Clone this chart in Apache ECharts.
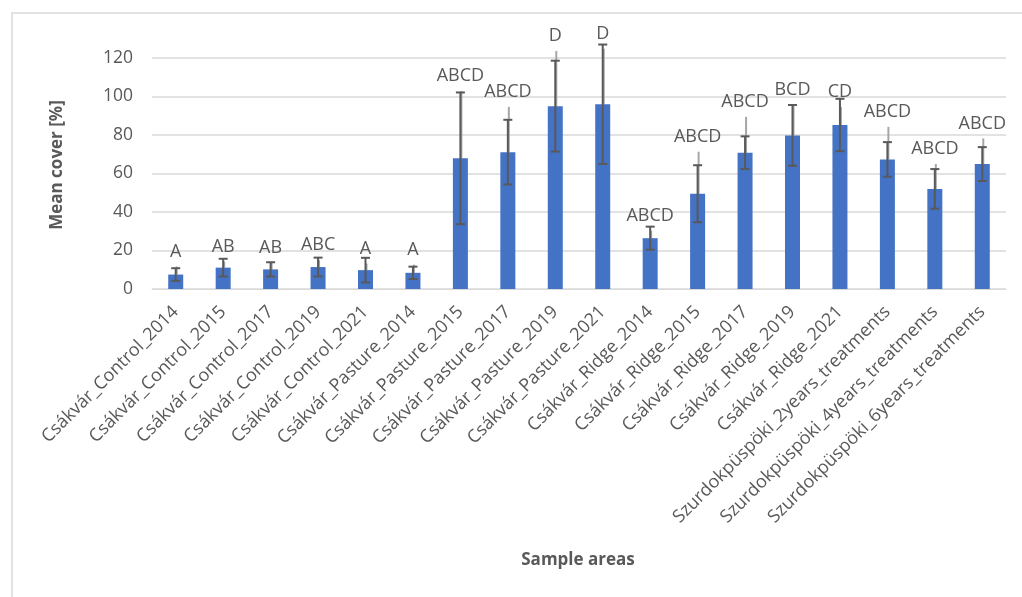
<!DOCTYPE html>
<html>
<head>
<meta charset="utf-8">
<script src="https://cdn.jsdelivr.net/npm/echarts@6/dist/echarts.min.js"></script>
<style>
  html, body { margin: 0; padding: 0; background: #ffffff; }
  #chart { width: 1022px; height: 597px; }
</style>
</head>
<body>
<div id="chart"></div>
<script>
const categories = [
  'Csákvár_Control_2014', 'Csákvár_Control_2015', 'Csákvár_Control_2017', 'Csákvár_Control_2019',
  'Csákvár_Control_2021', 'Csákvár_Pasture_2014', 'Csákvár_Pasture_2015', 'Csákvár_Pasture_2017',
  'Csákvár_Pasture_2019', 'Csákvár_Pasture_2021', 'Csákvár_Ridge_2014', 'Csákvár_Ridge_2015',
  'Csákvár_Ridge_2017', 'Csákvár_Ridge_2019', 'Csákvár_Ridge_2021',
  'Szurdokpüspöki_2years_treatments', 'Szurdokpüspöki_4years_treatments', 'Szurdokpüspöki_6years_treatments'
];
const means  = [7.5, 11.1, 10.2, 11.4, 9.8, 8.4, 67.9, 71.1, 95.0, 96.0, 26.4, 49.5, 70.8, 79.8, 85.2, 67.3, 52.0, 64.9];
const errors = [3.3, 4.6, 3.7, 4.9, 6.4, 3.2, 34.2, 16.8, 23.6, 31.0, 6.0, 14.8, 8.5, 15.8, 13.6, 9.0, 10.3, 8.8];
const letters = ['A', 'AB', 'AB', 'ABC', 'A', 'A', 'ABCD', 'ABCD', 'D', 'D', 'ABCD', 'ABCD', 'ABCD', 'BCD', 'CD', 'ABCD', 'ABCD', 'ABCD'];
const letterAt = [19.5, 22.1, 21.6, 22.8, 21.0, 20.4, 110.5, 102.4, 131.4, 132.6, 38.1, 79.1, 97.2, 103.3, 102.4, 92.0, 72.7, 86.0];
const yTicks = { min: 0, max: 120, interval: 20 };

const FONT = '"Open Sans", "DejaVu Sans", sans-serif';
const errData = means.map((m, i) => [i, m - errors[i], m + errors[i]]);
const labelData = means.map((m, i) => [i, m, letterAt[i], letters[i]]);

const chart = echarts.init(document.getElementById('chart'), null, { renderer: 'canvas' });
chart.setOption({
  animation: false,
  backgroundColor: '#ffffff',
  grid: { left: 152, right: 16, top: 58, bottom: 308, containLabel: false },
  xAxis: {
    type: 'category',
    data: categories,
    axisLine: { show: true, lineStyle: { color: '#d9d9d9', width: 1 } },
    axisTick: { show: false },
    axisLabel: {
      interval: 0, rotate: 45, margin: 20,
      color: '#595959', fontSize: 18, fontFamily: FONT
    }
  },
  yAxis: {
    type: 'value',
    min: yTicks.min, max: yTicks.max, interval: yTicks.interval,
    axisLine: { show: false },
    axisTick: { show: false },
    splitLine: { lineStyle: { color: '#d9d9d9', width: 1.5 } },
    axisLabel: { margin: 19, color: '#595959', fontSize: 17.5, fontFamily: FONT }
  },
  graphic: [
    { type: 'rect', shape: { x: 12, y: 13, width: 1040, height: 620 }, style: { fill: 'none', stroke: '#d9d9d9', lineWidth: 1.5 }, silent: true, z: -10 },
    { type: 'text', x: 578, y: 560, style: { text: 'Sample areas', align: 'center', verticalAlign: 'middle', fill: '#595959', font: 'bold 17px ' + FONT } },
    { type: 'text', x: 57, y: 165, rotation: Math.PI / 2, style: { text: 'Mean cover [%]', align: 'center', verticalAlign: 'middle', fill: '#595959', font: 'bold 17px ' + FONT } }
  ],
  series: [
    {
      type: 'bar',
      data: means,
      barWidth: 15,
      itemStyle: { color: '#4472C4' },
      z: 2
    },
    {
      type: 'custom',
      data: labelData,
      clip: false,
      z: 1,
      renderItem: function (params, api) {
        const i = api.value(0);
        const top = api.coord([i, api.value(1)]);
        const lab = api.coord([i, api.value(2)]);
        const endY = lab[1] + 15;
        const children = [];
        if (endY < top[1] - 4) {
          children.push({ type: 'line', shape: { x1: top[0] + 1, y1: top[1], x2: lab[0] + 1, y2: endY }, style: { stroke: '#a6a6a6', lineWidth: 2 } });
        }
        return { type: 'group', children: children };
      }
    },
    {
      type: 'custom',
      data: errData,
      clip: false,
      z: 3,
      renderItem: function (params, api) {
        const i = api.value(0);
        const lo = api.coord([i, api.value(1)]);
        const hi = api.coord([i, api.value(2)]);
        const c = 4.5;
        const st = { stroke: '#595959', lineWidth: 2 };
        return {
          type: 'group',
          children: [
            { type: 'line', shape: { x1: lo[0], y1: lo[1], x2: hi[0], y2: hi[1] }, style: st },
            { type: 'line', shape: { x1: lo[0] - c, y1: lo[1], x2: lo[0] + c, y2: lo[1] }, style: st },
            { type: 'line', shape: { x1: hi[0] - c, y1: hi[1], x2: hi[0] + c, y2: hi[1] }, style: st }
          ]
        };
      }
    },
    {
      type: 'custom',
      data: labelData,
      clip: false,
      z: 4,
      renderItem: function (params, api) {
        const i = api.value(0);
        const lab = api.coord([i, api.value(2)]);
        return {
          type: 'text',
          style: {
            text: letters[params.dataIndex], x: lab[0], y: lab[1],
            align: 'center', verticalAlign: 'middle',
            fill: '#595959', fontSize: 18, fontFamily: FONT
          }
        };
      }
    }
  ]
});
</script>
</body>
</html>
